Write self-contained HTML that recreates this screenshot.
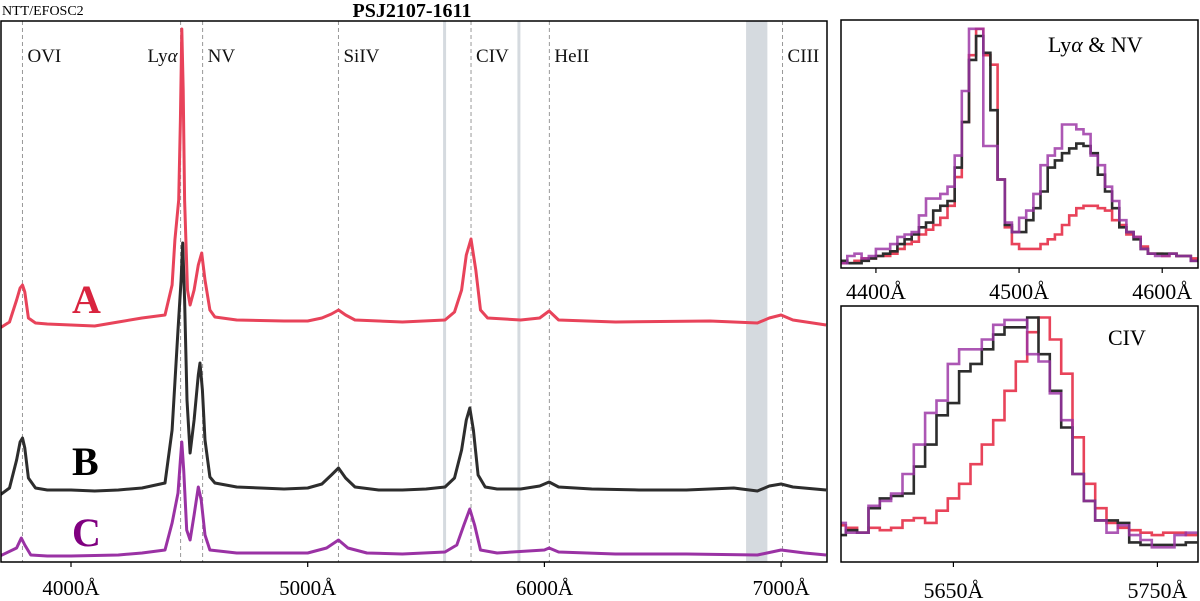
<!DOCTYPE html>
<html><head><meta charset="utf-8"><style>
html,body{margin:0;padding:0;background:#fff;}
svg{display:block;font-family:"Liberation Serif",serif;}
</style></head><body>
<svg id="fig" width="1200" height="601" viewBox="0 0 1200 601" xmlns="http://www.w3.org/2000/svg">
<g id="main"></g>
<g id="ins1"></g>
<g id="ins2"></g>
</svg>
<script>
// ---- main panel data ----
const mainTicks = [4000, 5000, 6000, 7000];
const lineNames = ["OVI", "Lyα", "NV", "SiIV", "CIV", "HeII", "CIII"];
const lineWaves = [3795, 4463, 4556, 5130, 5690, 6021, 7006];
const telluricBands = [[5572, 5580], [5886, 5894], [6852, 6942]];
const waveA = [3700,3740,3770,3785,3795,3805,3820,3850,3900,4000,4100,4200,4300,4397,4427,4439,4455,4462,4468,4474,4480,4492,4503,4520,4538,4552,4566,4587,4608,4700,4900,5000,5060,5100,5130,5160,5200,5400,5580,5620,5650,5670,5690,5710,5730,5760,5900,5980,6020,6060,6300,6700,6900,6950,7000,7050,7190];
const fluxA = [23.4,24.0,26.2,27.4,27.7,27.0,24.4,23.9,23.8,23.7,23.6,24.0,24.4,24.7,27.7,32.2,36.2,44.2,53.3,47.2,36.2,27.2,25.7,27.2,29.7,30.9,28.2,25.2,24.5,24.2,24.1,24.1,24.4,24.8,25.2,24.7,24.2,24.0,24.2,25.0,27.2,30.7,32.3,29.2,25.2,24.4,24.2,24.4,25.1,24.2,24.0,24.1,23.9,24.4,24.7,24.2,23.7];
const waveB = [3700,3740,3770,3785,3795,3805,3820,3850,3900,4000,4100,4200,4300,4397,4427,4452,4465,4472,4480,4490,4503,4520,4538,4545,4555,4566,4587,4608,4700,4800,4900,5000,5060,5100,5130,5160,5200,5300,5400,5500,5580,5620,5650,5670,5685,5700,5720,5750,5800,5900,5980,6020,6060,6200,6400,6600,6800,6900,6950,7000,7050,7190];
const fluxB = [6.7,7.4,10.2,12.0,12.4,11.4,8.4,7.4,7.2,7.2,7.1,7.2,7.4,7.9,13.2,23.2,28.2,31.9,26.2,16.2,10.9,14.2,18.7,19.9,17.2,12.2,8.5,7.9,7.5,7.4,7.3,7.4,7.8,8.7,9.4,8.4,7.5,7.2,7.2,7.3,7.5,8.4,11.2,14.2,15.4,13.2,8.7,7.5,7.3,7.3,7.6,8.0,7.5,7.3,7.2,7.2,7.4,7.1,7.6,7.8,7.5,7.2];
const waveC = [3700,3770,3790,3805,3830,3900,4000,4200,4300,4397,4427,4452,4462,4468,4476,4489,4503,4520,4538,4550,4566,4587,4700,4900,5000,5080,5130,5170,5250,5400,5580,5630,5660,5685,5705,5730,5800,6000,6020,6060,6300,6600,6900,7000,7100,7190];
const fluxC = [0.6,1.4,2.4,1.7,0.7,0.6,0.6,0.7,0.9,1.2,3.9,6.9,10.2,12.0,9.2,3.2,2.2,4.7,7.5,6.2,2.7,1.2,0.9,0.9,0.9,1.4,2.2,1.4,0.9,0.8,1.0,1.7,3.7,5.3,3.7,1.2,0.9,1.2,1.4,1.0,0.8,0.8,0.7,1.2,0.9,0.7];
// ---- inset 1 (Lya & NV) data, 5 A bins starting 4375 ----
const ins1Start = 4375, ins1Bin = 5;
const ins1Ticks = [4400, 4500, 4600];
const ins1A = [2,2,3,4,4,5,5,6,8,10,11,14,16,18,21,26,38,61,89,100,89,85,37,17,10,8,8,8,10,12,14,18,22,25,26,26,25,24,20,18,14,13,9,6,6,5,6,5,5,4];
const ins1B = [3,2,2,3,4,5,6,7,10,12,14,17,19,24,26,28,42,61,87,97,90,66,37,18,15,15,20,25,32,42,45,48,50,52,51,48,39,32,25,17,15,12,8,6,6,6,6,5,5,3];
const ins1C = [2,5,6,4,5,8,8,10,13,14,15,22,29,29,31,34,47,74,100,100,51,51,37,19,15,21,24,31,43,47,50,60,60,58,56,47,43,34,28,20,15,13,8,6,5,5,6,5,5,3];
// ---- inset 2 (CIV) data, 5.556 A bins starting 5591.7 ----
const ins2Start = 5591.7, ins2Bin = 5.556;
const ins2Ticks = [5650, 5750];
const ins2A = [15,14,12,14,13,14,17,18,16,21,26,32,40,48,58,70,82,94,100,91,77,51,32,22,16,14,13,12,11,12,12,11];
const ins2B = [11,13,12,22,26,27,28,39,48,60,65,78,81,87,93,96,96,100,85,70,55,36,25,17,17,16,8,7,7,7,7,8];
const ins2C = [16,12,12,23,25,28,36,48,61,66,81,87,87,91,97,99,99,85,82,69,58,36,25,17,12,15,11,9,6,6,11,12];

const NS = "http://www.w3.org/2000/svg";
function mk(parent, tag, attrs, text) {
  const e = document.createElementNS(NS, tag);
  for (const k in attrs) e.setAttribute(k, attrs[k]);
  if (text !== undefined) e.textContent = text;
  parent.appendChild(e);
  return e;
}
const RED = "#e8435a", BLK = "#2d2d2d", PUR = "#9a32a4";

// ---- main panel ----
const M = {x0: 1, x1: 827, y0: 21, y1: 562};
const mx = w => 71 + (w - 4000) * 0.2367;
const my = f => M.y1 - f * 10;
const main = document.getElementById("main");
const clip = mk(document.getElementById("fig"), "clipPath", {id: "mclip"});
mk(clip, "rect", {x: M.x0, y: M.y0, width: M.x1 - M.x0, height: M.y1 - M.y0});

telluricBands.forEach((b, i) => {
  const r = mk(main, "rect", {x: mx(b[0]), y: M.y0, width: Math.max(3, mx(b[1]) - mx(b[0])), height: M.y1 - M.y0, fill: "#d5dadf"});
  
  
});
lineWaves.forEach((w, i) => {
  const l = mk(main, "line", {x1: mx(w), x2: mx(w), y1: M.y0, y2: M.y1, stroke: "#999", "stroke-width": 1, "stroke-dasharray": "4,3"});
  
  
  const right = lineNames[i] === "Lyα";
  const t = mk(main, "text", {x: right ? mx(w) - 3 : mx(w) + 5, y: 62, "font-size": 19, "text-anchor": right ? "end" : "start", fill: "#111"});
  if (right) { t.textContent = "Ly"; const ts = mk(t, "tspan", {"font-style": "italic"}, "α"); }
  else t.textContent = lineNames[i];
  
  
});
function spec(ws, fs, col, name) {
  const p = mk(main, "polyline", {points: ws.map((w, i) => mx(w).toFixed(1) + "," + my(fs[i]).toFixed(1)).join(" "), fill: "none", stroke: col, "stroke-width": 3, "stroke-linejoin": "round", "clip-path": "url(#mclip)"});
  
  
}
spec(waveA, fluxA, RED, "spectrum-a");
spec(waveB, fluxB, BLK, "spectrum-b");
spec(waveC, fluxC, PUR, "spectrum-c");
[["A", "#d9243f", 313], ["B", "#000", 475], ["C", "#800080", 546]].forEach(d => {
  const t = mk(main, "text", {x: 72, y: d[2], "font-size": 40, "font-weight": "bold", fill: d[1]}, d[0]);
  
  
});
const mf = mk(main, "rect", {x: M.x0, y: M.y0, width: M.x1 - M.x0, height: M.y1 - M.y0, fill: "none", stroke: "#000", "stroke-width": 1.5});


mainTicks.forEach(v => {
  mk(main, "line", {x1: mx(v), x2: mx(v), y1: M.y1, y2: M.y1 + 5, stroke: "#000", "stroke-width": 1.2});
  const t = mk(main, "text", {x: mx(v), y: 595, "font-size": 21, "text-anchor": "middle"}, v + "Å");
  
  
});
const tt = mk(main, "text", {x: 412, y: 17, "font-size": 20, "font-weight": "bold", "text-anchor": "middle"}, "PSJ2107-1611");


const it = mk(main, "text", {x: 2, y: 15, "font-size": 14}, "NTT/EFOSC2");



// ---- insets ----
function inset(gid, box, start, bin, w0, w1, ticks, A, B, C, fmax, label, lx, ly, tickY, cid) {
  const g = document.getElementById(gid);
  const sx = w => box.x0 + (w - w0) / (w1 - w0) * (box.x1 - box.x0);
  const sy = f => box.y1 - f / fmax * (box.y1 - box.y0);
  const c = mk(document.getElementById("fig"), "clipPath", {id: cid});
  mk(c, "rect", {x: box.x0, y: box.y0, width: box.x1 - box.x0, height: box.y1 - box.y0});
  function step(vals, col, name, op) {
    let d = "";
    vals.forEach((v, i) => {
      const a = sx(start + i * bin), b = sx(start + (i + 1) * bin), y = sy(v);
      d += (i === 0 ? "M" + a.toFixed(1) + "," + y.toFixed(1) : "V" + y.toFixed(1)) + "H" + b.toFixed(1);
    });
    const p = mk(g, "path", {d: d, fill: "none", stroke: col, "stroke-width": 2.6, "clip-path": "url(#" + cid + ")", opacity: op});
    
    
  }
  step(A, RED, gid + "-spectrum-a", 1);
  step(B, BLK, gid + "-spectrum-b", 1);
  step(C, PUR, gid + "-spectrum-c", 0.82);
  const f = mk(g, "rect", {x: box.x0, y: box.y0, width: box.x1 - box.x0, height: box.y1 - box.y0, fill: "none", stroke: "#000", "stroke-width": 1.5});
  
  
  ticks.forEach(v => {
    mk(g, "line", {x1: sx(v), x2: sx(v), y1: box.y1, y2: box.y1 + 5, stroke: "#000", "stroke-width": 1.2});
    const t = mk(g, "text", {x: sx(v), y: tickY, "font-size": 22, "text-anchor": "middle"}, v + "Å");
    
    
  });
  const t = mk(g, "text", {x: lx, y: ly, "font-size": 22}, "");
  if (label === "lya") { t.appendChild(document.createTextNode("Ly")); mk(t, "tspan", {"font-style": "italic"}, "α"); t.appendChild(document.createTextNode(" & NV")); }
  else t.textContent = label;
  
  
}
inset("ins1", {x0: 841, x1: 1198, y0: 20, y1: 268}, ins1Start, ins1Bin, 4375.6, 4625, ins1Ticks, ins1A, ins1B, ins1C, 103.7, "lya", 1048, 52, 299, "c1");
inset("ins2", {x0: 841, x1: 1198, y0: 306, y1: 562}, ins2Start, ins2Bin, 5594.9, 5769.9, ins2Ticks, ins2A, ins2B, ins2C, 104.7, "CIV", 1108, 345, 598, "c2");
</script>
</body></html>
